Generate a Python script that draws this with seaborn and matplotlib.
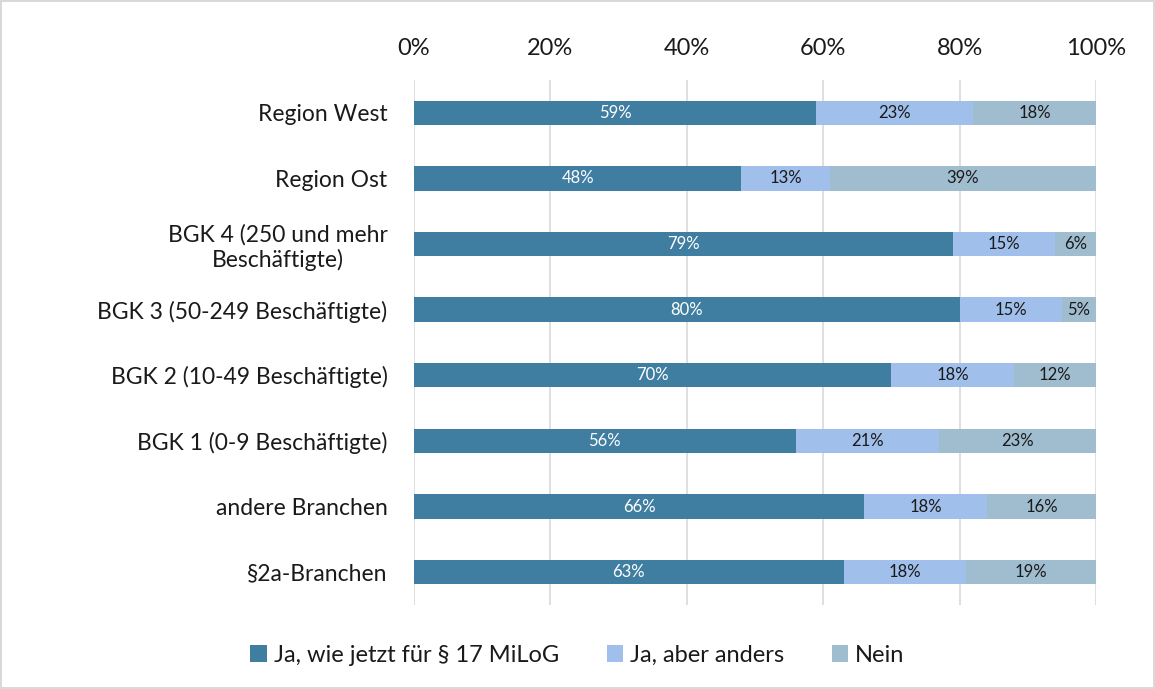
import matplotlib
matplotlib.use("Agg")
import matplotlib.pyplot as plt
import pandas as pd
import seaborn as sns

categories = [
    "Region West",
    "Region Ost",
    "BGK 4 (250 und mehr\nBeschäftigte)",
    "BGK 3 (50-249 Beschäftigte)",
    "BGK 2 (10-49 Beschäftigte)",
    "BGK 1 (0-9 Beschäftigte)",
    "andere Branchen",
    "§2a-Branchen",
]
ja_wie_jetzt = [59, 48, 79, 80, 70, 56, 66, 63]
ja_anders = [23, 13, 15, 15, 18, 21, 18, 18]
nein = [18, 39, 6, 5, 12, 23, 16, 19]

series_names = ["Ja, wie jetzt für § 17 MiLoG", "Ja, aber anders", "Nein"]
colors = ["#407ea1", "#a0bfea", "#a0bdd0"]
text_colors = ["white", "#1a1a1a", "#1a1a1a"]

sns.set_theme(style="white")
plt.rcParams["font.family"] = ["Lato", "DejaVu Sans"]

df = pd.DataFrame({
    "category": categories,
    series_names[0]: ja_wie_jetzt,
    series_names[1]: ja_anders,
    series_names[2]: nein,
})
values = df[series_names]
cum = values.cumsum(axis=1)

fig = plt.figure(figsize=(11.55, 6.89), dpi=100)
fig.patch.set_edgecolor("#d9d9d9")
fig.patch.set_linewidth(1.5)
ax = fig.add_axes([0.3584, 0.122, 0.5905, 0.762])

# stacked bars: draw cumulative totals, largest first
for i in reversed(range(len(series_names))):
    plot_df = pd.DataFrame({"category": df["category"], "end": cum[series_names[i]]})
    sns.barplot(data=plot_df, x="end", y="category", orient="h", color=colors[i],
                width=0.37, saturation=1, linewidth=0, ax=ax, zorder=2,
                label=series_names[i])

for i, name in enumerate(series_names):
    for row, (v, c) in enumerate(zip(values[name], cum[name])):
        ax.text(c - v / 2, row, f"{v}%", ha="center", va="center",
                color=text_colors[i], fontsize=12, zorder=3)

ax.set_xlim(0, 100)
ax.set_ylim(len(categories) - 0.5, -0.5)
ax.set_xticks(range(0, 101, 20))
ax.set_xticklabels([f"{t}%" for t in range(0, 101, 20)])
ax.xaxis.tick_top()
ax.tick_params(axis="x", labelsize=17, length=0, pad=15, labelcolor="#1a1a1a")
ax.tick_params(axis="y", labelsize=16.5, length=0, pad=19, labelcolor="#1a1a1a")
for lab in ax.get_yticklabels():
    lab.set_multialignment("center")
ax.set_xlabel("")
ax.set_ylabel("")
ax.grid(axis="x", color="#d9d9d9", linewidth=1.2, zorder=0)
ax.set_axisbelow(True)
for s in ax.spines.values():
    s.set_visible(False)

handles, labels = ax.get_legend_handles_labels()
order = [labels.index(n) for n in series_names]
leg = ax.legend([handles[k] for k in order], [labels[k] for k in order],
                loc="center", bbox_to_anchor=(0.5, 0.049), bbox_transform=fig.transFigure,
                ncol=3, frameon=False, fontsize=17, handlelength=0.7, handleheight=0.7,
                handletextpad=0.3, columnspacing=2.0)
for t in leg.get_texts():
    t.set_color("#1a1a1a")

fig.savefig("out.png", dpi=100, edgecolor=fig.get_edgecolor())
